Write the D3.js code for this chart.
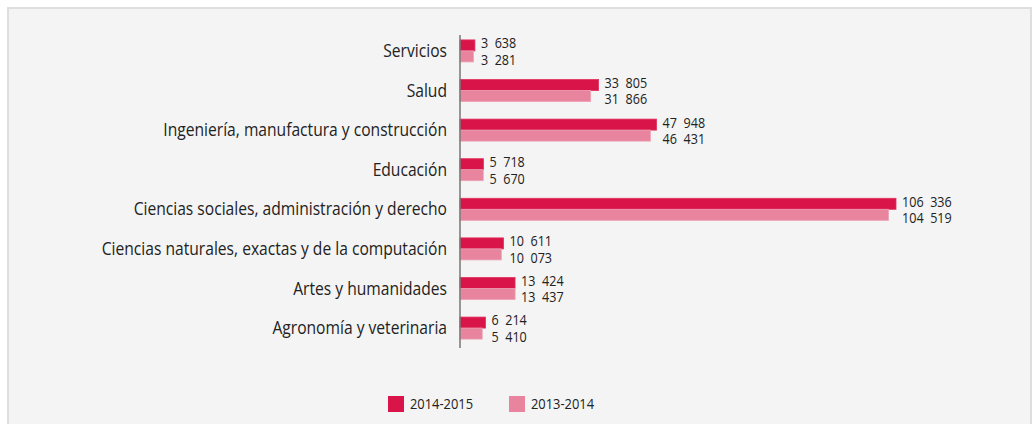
<!DOCTYPE html>
<html>
<head>
<meta charset="utf-8">
<script src="https://cdn.jsdelivr.net/npm/d3@7/dist/d3.min.js"></script>
<style>
  html, body { margin: 0; padding: 0; background: #ffffff; }
  svg { display: block; }
  text { font-family: "Open Sans", "Noto Sans", sans-serif; fill: #222; }
</style>
</head>
<body>
<svg id="chart" width="1032" height="424"></svg>
<script>
const categories = [
  "Servicios",
  "Salud",
  "Ingeniería, manufactura y construcción",
  "Educación",
  "Ciencias sociales, administración y derecho",
  "Ciencias naturales, exactas y de la computación",
  "Artes y humanidades",
  "Agronomía y veterinaria"
];
const seriesNames = ["2014-2015", "2013-2014"];
const values2014_2015 = [3638, 33805, 47948, 5718, 106336, 10611, 13424, 6214];
const values2013_2014 = [3281, 31866, 46431, 5670, 104519, 10073, 13437, 5410];
const seriesColors = ["#d91449", "#e8849e"];
const seriesEdges = ["#e2305d", "#eba1b4"];

const svg = d3.select("#chart");
const W = 1032, H = 424;

// turn a positioned text into a horizontally condensed one
function condense(sel, k) {
  sel.each(function () {
    const t = d3.select(this);
    const tx = +t.attr("x") || 0, ty = +t.attr("y") || 0;
    t.attr("x", 0).attr("y", 0)
     .attr("transform", `translate(${tx},${ty}) scale(${k},1)`);
  });
}

// panel
svg.append("rect").attr("x", 8).attr("y", 8).attr("width", W - 9).attr("height", H)
  .attr("fill", "#f4f4f4").attr("stroke", "#dedede").attr("stroke-width", 2);

const plotLeft = 460, plotTop = 31, plotBottom = 348;
const x = d3.scaleLinear().domain([0, 106336]).range([plotLeft, 896]);
const y = d3.scaleBand().domain(categories).range([plotTop, plotBottom]).paddingInner(0.444).paddingOuter(0.225);
const sub = d3.scaleBand().domain(seriesNames).range([0, y.bandwidth()]);

const fmt = v => d3.format(",")(v).replace(/,/g, "  ");
const series = [values2014_2015, values2013_2014];
const labelShift = [-2.5, 3];

seriesNames.forEach((name, si) => {
  const g = svg.append("g");
  g.selectAll("rect").data(categories).join("rect")
    .attr("x", x(0))
    .attr("y", c => y(c) + sub(name))
    .attr("width", (c, i) => x(series[si][i]) - x(0))
    .attr("height", sub.bandwidth())
    .attr("fill", seriesColors[si])
    .attr("stroke", seriesEdges[si])
    .attr("stroke-width", 0.8);
  g.selectAll("text").data(categories).join("text")
    .attr("x", (c, i) => x(Math.max(values2014_2015[i], values2013_2014[i])) + 6)
    .attr("y", c => y(c) + sub(name) + sub.bandwidth() / 2 + labelShift[si])
    .attr("dy", "0.36em")
    .attr("font-size", 15)
    .style("white-space", "pre")
    .text((c, i) => fmt(series[si][i]))
    .call(condense, 0.84);
});

// category axis
const axis = d3.axisLeft(y).tickSize(0).tickPadding(13);
const ag = svg.append("g").attr("transform", `translate(${plotLeft},0)`).call(axis);
ag.select(".domain").attr("stroke", "#777").attr("stroke-width", 1.5).attr("d", `M0,35V${plotBottom}`);
ag.selectAll(".tick text").attr("font-size", 19).attr("font-family", null).style("fill", "#222").call(condense, 0.823);

// legend
const lg = svg.append("g").attr("transform", "translate(388,396)");
const lx = [0, 121];
seriesNames.forEach((name, i) => {
  lg.append("rect").attr("x", lx[i]).attr("y", 0).attr("width", 16).attr("height", 16).attr("fill", seriesColors[i]);
  lg.append("text").attr("x", lx[i] + 22).attr("y", 8).attr("dy", "0.36em").attr("font-size", 15).text(name).call(condense, 0.86);
});
</script>
</body>
</html>
